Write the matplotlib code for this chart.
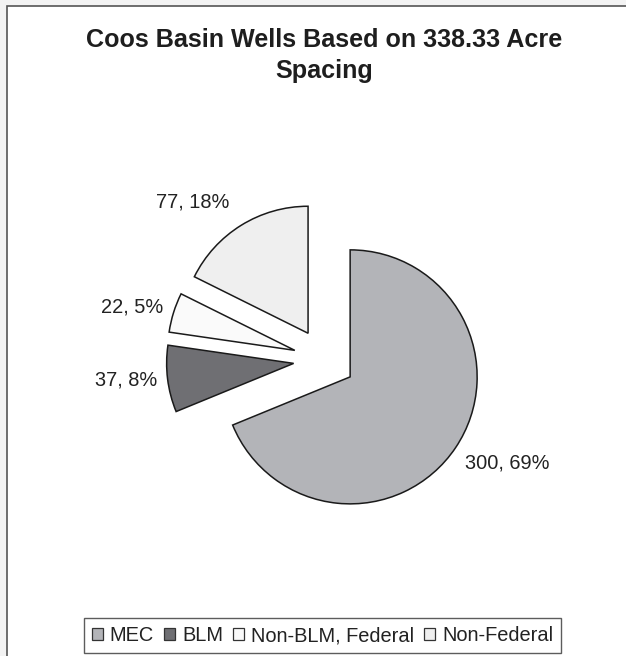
import matplotlib.pyplot as plt
from matplotlib.patches import Patch

plt.rcParams['font.family'] = ['Liberation Sans', 'DejaVu Sans']

# datos del grafico
categorias = ['MEC', 'BLM', 'Non-BLM, Federal', 'Non-Federal']
pozos = [300, 37, 22, 77]
porcentajes = [69, 8, 5, 18]
colores = ['#b3b4b8', '#6f6f73', '#fafafa', '#efefef']
titulo = 'Coos Basin Wells Based on 338.33 Acre\nSpacing'

W, H = 626, 656  # tamaño en pixeles
# posiciones de las etiquetas (pixeles, y hacia abajo)
pos_etiquetas = [(507, 463), (126, 380), (132, 307), (193, 202)]

fig = plt.figure(figsize=(W / 100, H / 100), dpi=100)
fig.patch.set_facecolor('#f3f3f3')
ax = fig.add_axes([0, 0, 1, 1])

# marco del grafico
ax.add_patch(plt.Rectangle((7, -10), W + 10, H - 6 + 10, facecolor='white',
                           edgecolor='#555555', linewidth=1.2, zorder=0))

# explode va en unidades de datos (pixeles)
ax.pie(pozos, colors=colores, startangle=90, counterclock=False,
       radius=127, center=(324.4, H - 359.6), explode=[31] * 4,
       wedgeprops={'edgecolor': '#1a1a1a', 'linewidth': 1.1}, frame=True)
ax.set_xlim(0, W)
ax.set_ylim(0, H)
ax.axis('off')

for (x, y), n, p in zip(pos_etiquetas, pozos, porcentajes):
    ax.text(x, H - y, f'{n}, {p}%', ha='center', va='center',
            fontsize=14.4, color='#222222')

ax.text(324, H - 55.5, titulo, ha='center', va='center', fontsize=18.1,
        fontweight='bold', color='#1e1e1e', linespacing=1.42)

handles = [Patch(facecolor=c, edgecolor='#333333', linewidth=0.9) for c in colores]
leg = fig.legend(handles, categorias, loc='center', ncol=4,
                 bbox_to_anchor=(322.5 / W, 1 - 635.5 / H),
                 fontsize=14.4, frameon=True, fancybox=False,
                 handlelength=0.55, handleheight=0.55, handletextpad=0.35,
                 columnspacing=0.5, borderpad=0.4, borderaxespad=0)
leg.get_frame().set_edgecolor('#333333')
leg.get_frame().set_linewidth(1.0)
for t in leg.get_texts():
    t.set_color('#222222')

plt.savefig('out.png', dpi=100, facecolor=fig.get_facecolor())
